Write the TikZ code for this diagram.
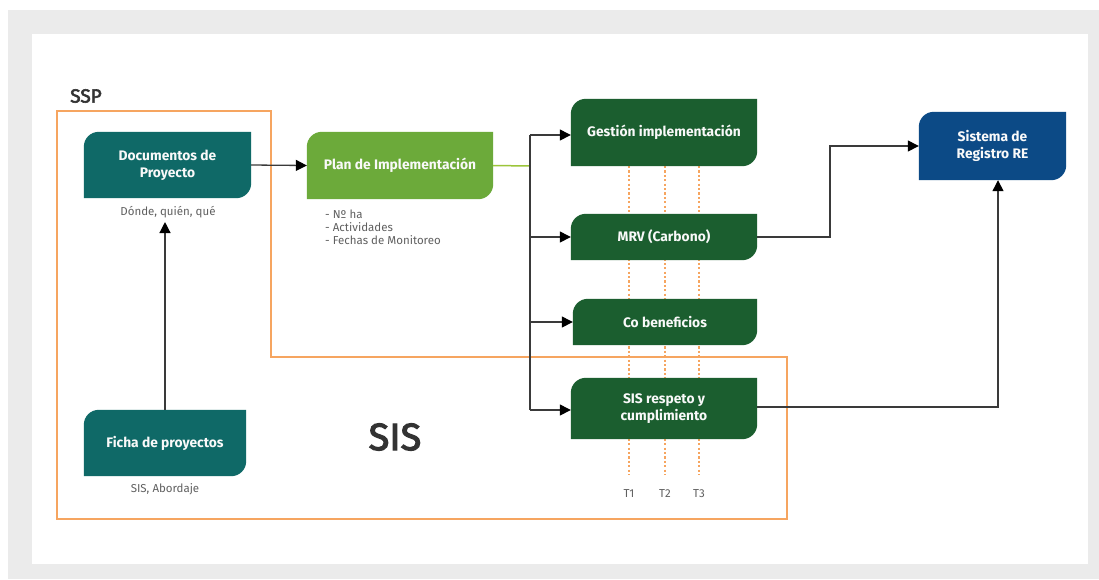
\documentclass[tikz,border=0pt]{standalone}
\usepackage{fontspec}
\setmainfont{Fira Sans}
\newfontfamily\medfont{Fira Sans}[FakeBold=3]
\usetikzlibrary{arrows.meta}
\definecolor{bggray}{HTML}{EBEBEB}
\definecolor{tealbox}{HTML}{0F6967}
\definecolor{lightgreen}{HTML}{6CAA3A}
\definecolor{darkgreen}{HTML}{1B5E2F}
\definecolor{navybox}{HTML}{0C4A86}
\definecolor{orangeln}{HTML}{F6A560}
\definecolor{lineg}{HTML}{3A3A3A}
\definecolor{yellowgreen}{HTML}{9CC53A}
\definecolor{notegray}{HTML}{606060}
\definecolor{darktext}{HTML}{333333}
\pgfdeclarelayer{panel}
\pgfdeclarelayer{back}
\pgfsetlayers{panel,back,main}
\newcommand\leaffill[2]{%
  \begin{pgfonlayer}{back}
  \fill[#2] (#1.south west) -- ([yshift=-15pt]#1.north west) .. controls ([yshift=-6.7pt]#1.north west) and ([xshift=6.7pt]#1.north west) .. ([xshift=15pt]#1.north west) -- (#1.north east) -- ([yshift=15pt]#1.south east) .. controls ([yshift=6.7pt]#1.south east) and ([xshift=-6.7pt]#1.south east) .. ([xshift=-15pt]#1.south east) -- cycle;
  \end{pgfonlayer}}
\begin{document}
\begin{tikzpicture}[x=1pt,y=-1pt,
  boxtext/.style={inner sep=0pt, text=white!95!gray, align=center, font=\bfseries\fontsize{13.8}{17}\selectfont},
  note/.style={text=notegray, font=\fontsize{11.5}{13}\selectfont, inner sep=0pt},
  arr/.style={draw=lineg, line width=1.3pt, -{Triangle[length=11pt,width=11pt,color=black]}},
  conn/.style={draw=lineg, line width=1.3pt},
  orangebox/.style={draw=orangeln, line width=1.6pt},
  tline/.style={draw=orangeln, line width=1.6pt, dash pattern=on 2.2pt off 2.2pt}]
\useasboundingbox (0,0) rectangle (1099,579);
\begin{pgfonlayer}{panel}
  \fill[bggray] (8,10) rectangle (1099,579);
  \fill[white] (32,34) rectangle (1088,564);
  \draw[tline] (629,166) -- (629,475);
  \draw[tline] (665,166) -- (665,475);
  \draw[tline] (699,166) -- (699,475);
\end{pgfonlayer}

% orange frame
\draw[orangebox] (57,111) -- (271,111) -- (271,357) -- (787,357) -- (787,519) -- (57,519) -- cycle;
\node[text=darktext, font=\medfont\fontsize{19}{21}\selectfont, inner sep=0pt] (ssp) at (86,96) {SSP};
\node[text=darktext, font=\medfont\fontsize{38}{40}\selectfont, inner sep=0pt] (sis) at (395,437) {SIS};

% boxes
\node[boxtext, minimum width=167pt, minimum height=66pt] (doc) at (167.5,165) {Documentos de\\Proyecto};
\leaffill{doc}{tealbox}
\node[boxtext, minimum width=162pt, minimum height=66pt] (ficha) at (165,443) {Ficha de proyectos};
\leaffill{ficha}{tealbox}
\node[boxtext, minimum width=186pt, minimum height=67pt] (plan) at (400,165.5) {Plan de Implementación};
\leaffill{plan}{lightgreen}
\node[boxtext, minimum width=186pt, minimum height=67pt] (gest) at (664,132.5) {Gestión implementación};
\leaffill{gest}{darkgreen}
\node[boxtext, minimum width=186pt, minimum height=46pt] (mrv) at (664,237) {MRV (Carbono)};
\leaffill{mrv}{darkgreen}
\node[boxtext, minimum width=184pt, minimum height=46pt] (cob) at (665,322) {Co beneficios};
\leaffill{cob}{darkgreen}
\node[boxtext, minimum width=186pt, minimum height=61pt] (sisr) at (664,408.5) {SIS respeto y\\cumplimiento};
\leaffill{sisr}{darkgreen}
\node[boxtext, minimum width=147pt, minimum height=68pt] (reg) at (992.5,146) {Sistema de\\Registro RE};
\leaffill{reg}{navybox}

% notes
\node[note] (docnote) at (168,212) {Dónde, quién, qué};
\node[note] (fichanote) at (165,489) {SIS, Abordaje};
\node[note, anchor=west, align=left] (plannote) at (325,227) {- Nº ha\\- Actividades\\- Fechas de Monitoreo};
\node[note] (t1) at (629,494) {T1};
\node[note] (t2) at (665,494) {T2};
\node[note] (t3) at (699,494) {T3};

% connectors
\coordinate (split) at (530,166);
\coordinate (m1) at (830,146);
\draw[arr] (doc.east) -- (plan.west);
\draw[arr] (ficha.north) -- ([yshift=-4pt]ficha.north |- docnote.south);
\draw[draw=yellowgreen, line width=1.5pt] (plan.east) -- (split);
\draw[conn] ([yshift=-2.5pt]gest.west -| split) -- ([yshift=-1.5pt]sisr.west -| split);
\draw[arr] ([yshift=-2.5pt]gest.west -| split) -- ([yshift=-2.5pt]gest.west);
\draw[arr] (mrv.west -| split) -- (mrv.west);
\draw[arr] (cob.west -| split) -- (cob.west);
\draw[arr] ([yshift=-1.5pt]sisr.west -| split) -- ([yshift=-1.5pt]sisr.west);
\draw[arr] (mrv.east) -| (m1) -- (reg.west);
\draw[arr] ([yshift=1.5pt]sisr.east) -| ([xshift=5.5pt]reg.south);
\end{tikzpicture}
\end{document}
